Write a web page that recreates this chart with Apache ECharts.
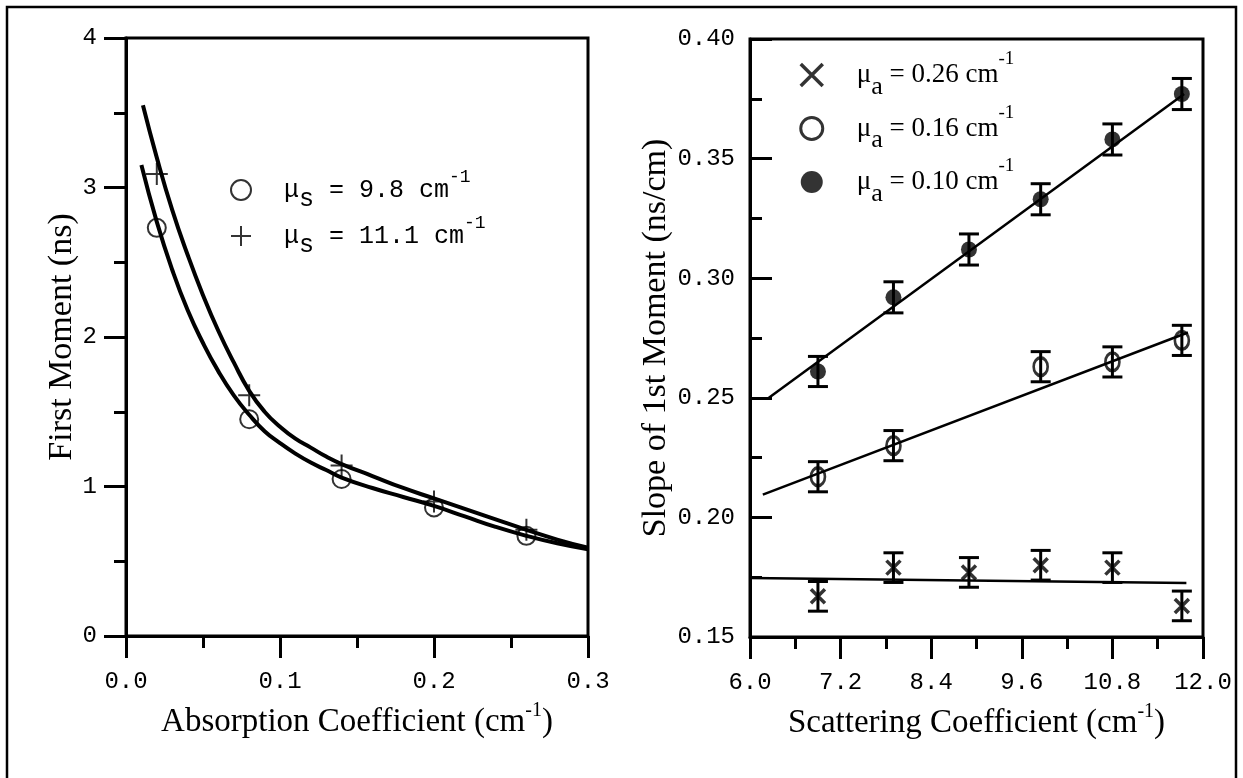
<!DOCTYPE html>
<html>
<head>
<meta charset="utf-8">
<script src="https://cdn.jsdelivr.net/npm/echarts@6/dist/echarts.min.js"></script>
<style>
  html, body { margin: 0; padding: 0; background: #fff; }
  #chart { width: 1243px; height: 778px; }
</style>
</head>
<body>
<div id="chart"></div>
<script>
// ---- Left panel: first moment vs absorption coefficient ----
const absCoef = [0.02, 0.08, 0.14, 0.20, 0.26];
const moment98 = [2.73, 1.45, 1.05, 0.86, 0.67];   // μs = 9.8 cm-1 (open circles)
const moment111 = [3.09, 1.61, 1.14, 0.90, 0.71];  // μs = 11.1 cm-1 (plus signs)

// model curves
const curve98X = [0.010, 0.02, 0.03, 0.04, 0.05, 0.06, 0.07, 0.08, 0.09, 0.10, 0.11, 0.12, 0.13, 0.14, 0.16, 0.18, 0.20, 0.22, 0.24, 0.26, 0.28, 0.30];
const curve98Y = [3.15, 2.77, 2.45, 2.18, 1.96, 1.77, 1.61, 1.48, 1.37, 1.29, 1.22, 1.16, 1.11, 1.06, 0.99, 0.93, 0.87, 0.80, 0.73, 0.67, 0.62, 0.58];
const curve111X = [0.011, 0.02, 0.03, 0.04, 0.05, 0.06, 0.07, 0.08, 0.09, 0.10, 0.11, 0.12, 0.13, 0.14, 0.16, 0.18, 0.20, 0.22, 0.24, 0.26, 0.28, 0.30];
const curve111Y = [3.55, 3.20, 2.85, 2.55, 2.28, 2.04, 1.83, 1.64, 1.50, 1.40, 1.32, 1.26, 1.20, 1.15, 1.07, 0.99, 0.92, 0.85, 0.78, 0.71, 0.645, 0.59];

// ---- Right panel: slope of first moment vs scattering coefficient ----
const scat = [6.9, 7.9, 8.9, 9.85, 10.8, 11.72];
const slope026 = [0.167, 0.179, 0.177, 0.180, 0.179, 0.163];
const err026 = [0.0062, 0.0062, 0.0062, 0.0062, 0.0062, 0.0062];
const scat016 = [6.9, 7.9, 9.85, 10.8, 11.72];
const slope016 = [0.217, 0.230, 0.263, 0.265, 0.274];
const err016 = [0.0063, 0.0063, 0.0063, 0.0063, 0.0063];
const slope010 = [0.261, 0.292, 0.312, 0.333, 0.358, 0.377];
const err010 = [0.0063, 0.0065, 0.0065, 0.0065, 0.0065, 0.0065];

// fitted straight lines (end points)
const fit026X = [6.0, 11.78];  const fit026Y = [0.1747, 0.1726];
const fit016X = [6.17, 11.8];  const fit016Y = [0.2095, 0.2773];
const fit010X = [6.25, 11.75]; const fit010Y = [0.25, 0.377];

// legend labels
const leftNames = ['μs = 9.8 cm-1', 'μs = 11.1 cm-1'];
const leftRich = ['{mu|μ}{sub|s}{t| = 9.8 cm}{sup|-1}', '{mu|μ}{sub|s}{t| = 11.1 cm}{sup|-1}'];
const rightNames = ['μa = 0.26 cm-1', 'μa = 0.16 cm-1', 'μa = 0.10 cm-1'];
const rightRich = ['{mu|μ}{sub|a}{t| = 0.26 cm}{sup|-1}', '{mu|μ}{sub|a}{t| = 0.16 cm}{sup|-1}', '{mu|μ}{sub|a}{t| = 0.10 cm}{sup|-1}'];

const MONO = 'Liberation Mono';
const SERIF = 'Liberation Serif';
const BLACK = '#000';

const SYM_X = 'path://M0,0L10,10M10,0L0,10';
const SYM_PLUS = 'path://M5,0L5,10M0,5L10,5';

const zip = (xs, ys) => xs.map((x, i) => [x, ys[i]]);
const errData = (xs, ys, es) => xs.map((x, i) => [x, ys[i] - es[i], ys[i] + es[i]]);

const richMap = {};
leftNames.forEach((n, i) => { richMap[n] = leftRich[i]; });
rightNames.forEach((n, i) => { richMap[n] = rightRich[i]; });

// vertical bar with caps between the low and high value of a point
function errorBarRender(params, api) {
  const x = api.value(0);
  const lo = api.coord([x, api.value(1)]);
  const hi = api.coord([x, api.value(2)]);
  const w = 10;
  const st = { stroke: BLACK, lineWidth: 3 };
  return {
    type: 'group',
    children: [
      { type: 'line', shape: { x1: lo[0], y1: lo[1], x2: hi[0], y2: hi[1] }, style: st },
      { type: 'line', shape: { x1: lo[0] - w, y1: lo[1], x2: lo[0] + w, y2: lo[1] }, style: st },
      { type: 'line', shape: { x1: hi[0] - w, y1: hi[1], x2: hi[0] + w, y2: hi[1] }, style: st }
    ]
  };
}

function xAxisBase(gridIndex, min, max, interval, digits, nameRich) {
  return {
    gridIndex, type: 'value', min, max, interval,
    axisLine: { show: true, onZero: false, lineStyle: { color: BLACK, width: 3 } },
    axisTick: { show: true, inside: false, length: 22, lineStyle: { color: BLACK, width: 3 } },
    minorTick: { show: true, splitNumber: 2, length: 12, lineStyle: { color: BLACK, width: 3 } },
    splitLine: { show: false },
    axisLabel: { margin: 34, color: BLACK, fontFamily: MONO, fontSize: 24, formatter: v => v.toFixed(digits) },
    name: nameRich, nameLocation: 'middle', nameGap: 65,
    nameTextStyle: {
      color: BLACK, fontFamily: SERIF, fontSize: 33,
      rich: {
        t: { fontFamily: SERIF, fontSize: 33, color: BLACK, lineHeight: 42 },
        sup: { fontFamily: SERIF, fontSize: 20, color: BLACK, lineHeight: 26, verticalAlign: 'top' }
      }
    }
  };
}

function yAxisBase(gridIndex, min, max, interval, digits, inside, margin, nameRich, nameGap) {
  return {
    gridIndex, type: 'value', min, max, interval,
    axisLine: { show: true, onZero: false, lineStyle: { color: BLACK, width: 3 } },
    axisTick: { show: true, inside, length: 22, lineStyle: { color: BLACK, width: 3 } },
    minorTick: { show: true, splitNumber: 2, length: 12, lineStyle: { color: BLACK, width: 3 } },
    splitLine: { show: false },
    axisLabel: { margin, color: BLACK, fontFamily: MONO, fontSize: 24, formatter: v => v.toFixed(digits) },
    name: nameRich, nameLocation: 'middle', nameGap,
    nameTextStyle: {
      color: BLACK, fontFamily: SERIF, fontSize: 34,
      rich: {
        t: { fontFamily: SERIF, fontSize: 34, color: BLACK }
      }
    }
  };
}

const chart = echarts.init(document.getElementById('chart'), null, { renderer: 'canvas' });

const option = {
  backgroundColor: '#fff',
  animation: false,
  graphic: [
    { type: 'rect', shape: { x: 7, y: 7, width: 1229, height: 820 },
      style: { fill: 'none', stroke: BLACK, lineWidth: 2.5 }, z: -1 }
  ],
  grid: [
    { left: 126, top: 38, width: 462, height: 598, show: true, borderColor: BLACK, borderWidth: 3, backgroundColor: 'transparent' },
    { left: 750, top: 39, width: 453, height: 598, show: true, borderColor: BLACK, borderWidth: 3, backgroundColor: 'transparent' }
  ],
  xAxis: [
    xAxisBase(0, 0, 0.3, 0.1, 1, '{t|Absorption Coefficient (cm}{sup|-1}{t|)}'),
    xAxisBase(1, 6.0, 12.0, 1.2, 1, '{t|Scattering Coefficient (cm}{sup|-1}{t|)}')
  ],
  yAxis: [
    yAxisBase(0, 0, 4, 1, 0, false, 29, '{t|First Moment (ns)}', 46),
    yAxisBase(1, 0.15, 0.40, 0.05, 2, true, 15, '{t|Slope of 1st Moment (ns/cm)}', 76)
  ],
  legend: [
    {
      left: 230, top: 168, orient: 'vertical', padding: 0, itemGap: 2,
      itemWidth: 20, itemHeight: 20, selectedMode: false,
      data: [
        { name: leftNames[0], icon: 'circle', itemStyle: { color: 'transparent', borderColor: BLACK, borderWidth: 2 } },
        { name: leftNames[1], icon: SYM_PLUS, itemStyle: { color: 'transparent', borderColor: BLACK, borderWidth: 2 } }
      ],
      formatter: n => richMap[n],
      textStyle: {
        color: BLACK, fontFamily: MONO, fontSize: 25,
        rich: {
          mu: { fontFamily: MONO, fontSize: 25, color: BLACK, lineHeight: 44, padding: [0, 0, 0, 28] },
          t: { fontFamily: MONO, fontSize: 25, color: BLACK, lineHeight: 44 },
          sub: { fontFamily: MONO, fontSize: 25, color: BLACK, lineHeight: 14, verticalAlign: 'bottom' },
          sup: { fontFamily: MONO, fontSize: 18, color: BLACK, lineHeight: 18, verticalAlign: 'top' }
        }
      }
    },
    {
      left: 799, top: 50, orient: 'vertical', padding: 0, itemGap: 3.5,
      itemWidth: 22, itemHeight: 22, selectedMode: false,
      data: [
        { name: rightNames[0], icon: SYM_X, itemStyle: { color: 'transparent', borderColor: BLACK, borderWidth: 3.5 } },
        { name: rightNames[1], icon: 'circle', itemStyle: { color: 'transparent', borderColor: BLACK, borderWidth: 3 } },
        { name: rightNames[2], icon: 'circle', itemStyle: { color: BLACK, borderColor: BLACK, borderWidth: 0 } }
      ],
      formatter: n => richMap[n],
      textStyle: {
        color: BLACK, fontFamily: SERIF, fontSize: 27,
        rich: {
          mu: { fontFamily: SERIF, fontSize: 27, color: BLACK, lineHeight: 50, padding: [0, 0, 0, 29] },
          t: { fontFamily: SERIF, fontSize: 27, color: BLACK, lineHeight: 50 },
          sub: { fontFamily: SERIF, fontSize: 26, color: BLACK, lineHeight: 16, verticalAlign: 'bottom' },
          sup: { fontFamily: SERIF, fontSize: 19, color: BLACK, lineHeight: 28, verticalAlign: 'top' }
        }
      }
    }
  ],
  series: [
    // left panel curves
    { type: 'line', xAxisIndex: 0, yAxisIndex: 0, data: zip(curve98X, curve98Y), smooth: 0.5,
      showSymbol: false, lineStyle: { color: BLACK, width: 4 }, z: 2 },
    { type: 'line', xAxisIndex: 0, yAxisIndex: 0, data: zip(curve111X, curve111Y), smooth: 0.5,
      showSymbol: false, lineStyle: { color: BLACK, width: 4 }, z: 2 },
    // left panel measurements
    { name: leftNames[0], type: 'scatter', xAxisIndex: 0, yAxisIndex: 0, data: zip(absCoef, moment98),
      symbol: 'circle', symbolSize: 18,
      itemStyle: { color: 'transparent', borderColor: BLACK, borderWidth: 2 }, z: 3 },
    { name: leftNames[1], type: 'scatter', xAxisIndex: 0, yAxisIndex: 0, data: zip(absCoef, moment111),
      symbol: SYM_PLUS, symbolSize: 22,
      itemStyle: { color: 'transparent', borderColor: BLACK, borderWidth: 2 }, z: 3 },

    // right panel fit lines
    { type: 'line', xAxisIndex: 1, yAxisIndex: 1, data: zip(fit026X, fit026Y), showSymbol: false,
      lineStyle: { color: BLACK, width: 2.5 }, z: 2 },
    { type: 'line', xAxisIndex: 1, yAxisIndex: 1, data: zip(fit016X, fit016Y), showSymbol: false,
      lineStyle: { color: BLACK, width: 2.5 }, z: 2 },
    { type: 'line', xAxisIndex: 1, yAxisIndex: 1, data: zip(fit010X, fit010Y), showSymbol: false,
      lineStyle: { color: BLACK, width: 2.5 }, z: 2 },

    // right panel error bars
    { type: 'custom', xAxisIndex: 1, yAxisIndex: 1, renderItem: errorBarRender,
      encode: { x: 0, y: [1, 2] }, data: errData(scat, slope026, err026), z: 3 },
    { type: 'custom', xAxisIndex: 1, yAxisIndex: 1, renderItem: errorBarRender,
      encode: { x: 0, y: [1, 2] }, data: errData(scat016, slope016, err016), z: 3 },
    { type: 'custom', xAxisIndex: 1, yAxisIndex: 1, renderItem: errorBarRender,
      encode: { x: 0, y: [1, 2] }, data: errData(scat, slope010, err010), z: 3 },

    // right panel measurements
    { name: rightNames[0], type: 'scatter', xAxisIndex: 1, yAxisIndex: 1, data: zip(scat, slope026),
      symbol: SYM_X, symbolSize: 14,
      itemStyle: { color: 'transparent', borderColor: BLACK, borderWidth: 3.5 }, z: 4 },
    { name: rightNames[1], type: 'scatter', xAxisIndex: 1, yAxisIndex: 1, data: zip(scat016, slope016),
      symbol: 'circle', symbolSize: [14, 18],
      itemStyle: { color: 'transparent', borderColor: BLACK, borderWidth: 3 }, z: 4 },
    { name: rightNames[2], type: 'scatter', xAxisIndex: 1, yAxisIndex: 1, data: zip(scat, slope010),
      symbol: 'circle', symbolSize: 16,
      itemStyle: { color: BLACK, borderWidth: 0 }, z: 4 }
  ]
};

chart.setOption(option);
</script>
</body>
</html>
